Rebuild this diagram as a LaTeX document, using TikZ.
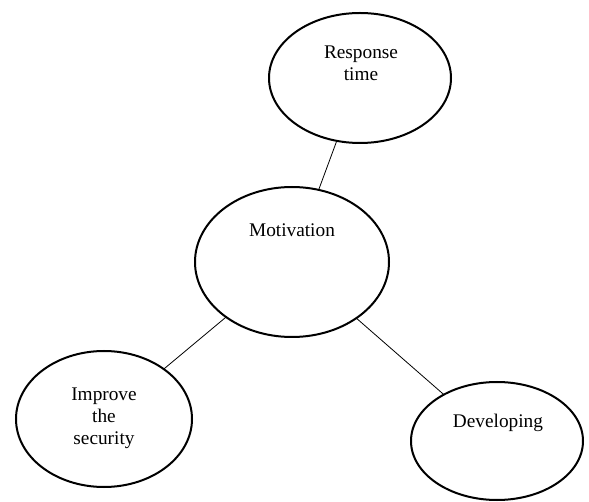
\documentclass[tikz,border=0pt]{standalone}
\usepackage{fontspec}
\setmainfont{Liberation Serif}
\usetikzlibrary{shapes.geometric}

\tikzset{
  bubble/.style={draw=black, line width=2pt, ellipse, inner sep=0pt, outer sep=0pt},
  link/.style={draw=black, line width=0.8pt},
  caption/.style={font=\fontsize{19.3}{22}\selectfont, align=center, inner sep=0pt, anchor=base}
}

\begin{document}
\begin{tikzpicture}[x=1pt, y=-1pt]
  \useasboundingbox (0,0) rectangle (589,502);

  % idea bubbles
  \node[bubble, minimum width=182pt, minimum height=130pt] (resp) at (360,78) {};
  \node[bubble, minimum width=194pt, minimum height=150pt] (motiv) at (292,262) {};
  \node[bubble, minimum width=176pt, minimum height=136pt] (secur) at (104,419) {};
  \node[bubble, minimum width=172pt, minimum height=118pt] (devel) at (497,441) {};

  % labels (base anchor sits on the last line)
  \node[caption] (respT) at (361,81) {Response\\time};
  \node[caption] (motivT) at (292,237) {Motivation};
  \node[caption] (securT) at (104,444) {Improve\\the\\security};
  \node[caption] (develT) at (498,428) {Developing};

  % links to the central bubble
  \draw[link] (resp) -- (motiv);
  \draw[link] (motiv) -- (secur);
  \draw[link] (motiv) -- (devel);
\end{tikzpicture}
\end{document}
